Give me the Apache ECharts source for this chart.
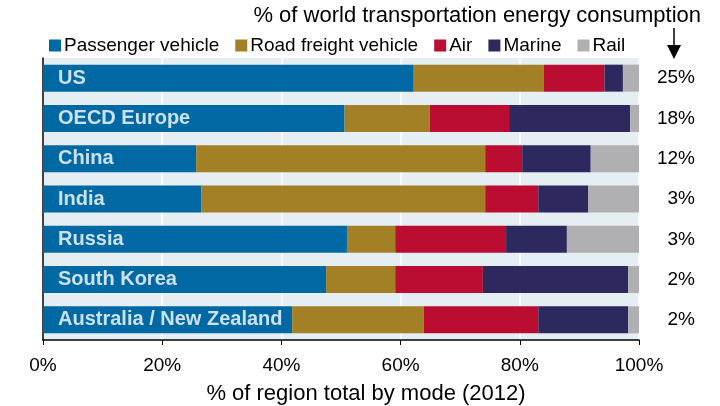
<!DOCTYPE html>
<html>
<head>
<meta charset="utf-8">
<script src="https://cdn.jsdelivr.net/npm/echarts@6/dist/echarts.min.js"></script>
<style>
  html, body { margin: 0; padding: 0; background: #fff; }
  #main { width: 720px; height: 406px; }
</style>
</head>
<body>
<div id="main"></div>
<script>
const regions = ["US", "OECD Europe", "China", "India", "Russia", "South Korea", "Australia / New Zealand"];
const worldShare = ["25%", "18%", "12%", "3%", "3%", "2%", "2%"];

// % of region total by mode (2012)
const passenger = [62.2, 50.6, 25.7, 26.6, 51.0, 47.5, 41.8];
const roadFreight = [21.8, 14.3, 48.5, 47.6, 8.1, 11.6, 22.1];
const air = [10.2, 13.3, 6.2, 8.9, 18.6, 14.7, 19.2];
const marine = [3.1, 20.3, 11.5, 8.4, 10.2, 24.4, 15.1];
const rail = [2.7, 1.5, 8.1, 8.5, 12.1, 1.8, 1.8];

const modes = [
  { name: "Passenger vehicle", data: passenger, color: "#0068a3" },
  { name: "Road freight vehicle", data: roadFreight, color: "#a38026" },
  { name: "Air", data: air, color: "#bb0d32" },
  { name: "Marine", data: marine, color: "#2d295f" },
  { name: "Rail", data: rail, color: "#b0b0b2" },
];

const font = "Liberation Sans, Arial, sans-serif";
const myChart = echarts.init(document.getElementById("main"));

const series = modes.map((m) => ({
  name: m.name,
  type: "bar",
  stack: "total",
  barWidth: "67%",
  data: m.data,
  itemStyle: { color: m.color },
  emphasis: { disabled: true },
}));

// region names drawn on top of the bars
series.push({
  name: "labels",
  type: "scatter",
  symbolSize: 0,
  z: 10,
  silent: true,
  data: regions.map((r) => [0, r]),
  label: {
    show: true,
    position: "right",
    distance: 15,
    formatter: (p) => p.value[1],
    color: "#fff",
    fontWeight: "bold",
    fontSize: 20,
    fontFamily: font,
  },
});

const option = {
  animation: false,
  textStyle: { fontFamily: font },
  title: {
    text: "% of world transportation energy consumption",
    right: 14,
    top: 0,
    textStyle: { fontSize: 22, fontWeight: "normal", color: "#000", fontFamily: font },
  },
  legend: {
    data: modes.map((m) => m.name),
    left: 44,
    top: 31,
    icon: "rect",
    itemWidth: 12,
    itemHeight: 12,
    itemGap: 16,
    textStyle: { fontSize: 19, color: "#000", padding: [0, 0, 0, -2], fontFamily: font },
  },
  grid: {
    left: 43,
    right: 81,
    top: 58,
    bottom: 66,
    show: true,
    backgroundColor: "#e5eef2",
    borderWidth: 0,
    outerBoundsMode: "none",
  },
  xAxis: {
    type: "value",
    min: 0,
    max: 100,
    interval: 20,
    name: "% of region total by mode (2012)",
    nameLocation: "middle",
    nameGap: 43,
    nameTextStyle: { fontSize: 22, color: "#000", padding: [0, 0, 0, 50] },
    axisLine: { show: true, lineStyle: { color: "#000", width: 1.5 } },
    axisTick: { show: true, length: 5, lineStyle: { color: "#000" } },
    axisLabel: { formatter: "{value}%", fontSize: 19, color: "#000", margin: 16 },
    splitLine: { show: true, lineStyle: { color: "#fff", width: 1.5 } },
  },
  yAxis: [
    {
      type: "category",
      data: regions,
      inverse: true,
      axisLine: { show: true, lineStyle: { color: "#000", width: 1.5 } },
      axisTick: { show: false },
      axisLabel: { show: false },
    },
    {
      type: "category",
      data: worldShare,
      inverse: true,
      position: "right",
      axisLine: { show: false },
      axisTick: { show: false },
      axisLabel: { fontSize: 19, color: "#000", align: "right", margin: 56 },
    },
  ],
  series: series,
  graphic: [
    {
      type: "line",
      shape: { x1: 674, y1: 28, x2: 674, y2: 46 },
      style: { stroke: "#000", lineWidth: 1.5 },
    },
    {
      type: "polygon",
      shape: { points: [[667, 45], [681, 45], [674, 59]] },
      style: { fill: "#000" },
    },
  ],
};

myChart.setOption(option);
</script>
</body>
</html>
